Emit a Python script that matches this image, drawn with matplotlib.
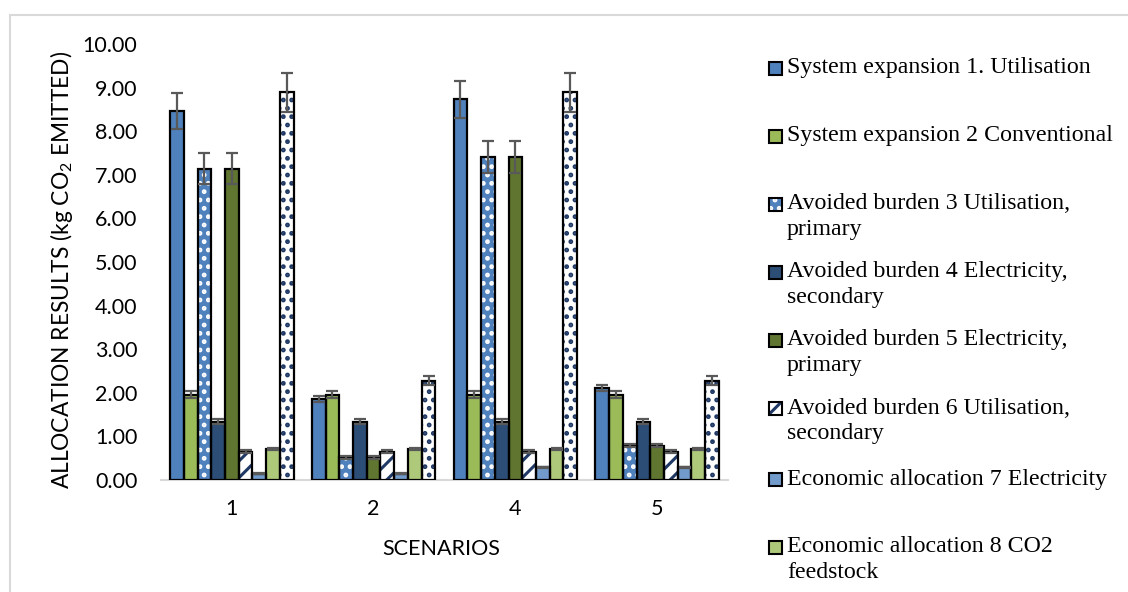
import numpy as np
import matplotlib
matplotlib.use("Agg")
import matplotlib.pyplot as plt
from matplotlib.patches import Rectangle

scenarios = ["1", "2", "4", "5"]
series_labels = [
    "System expansion 1. Utilisation",
    "System expansion 2 Conventional",
    "Avoided burden 3 Utilisation,\nprimary",
    "Avoided burden 4 Electricity,\nsecondary",
    "Avoided burden 5 Electricity,\nprimary",
    "Avoided burden 6 Utilisation,\nsecondary",
    "Economic allocation 7 Electricity",
    "Economic allocation 8 CO2\nfeedstock",
    "Economic allocation 9",
]
# values per series across scenarios 1, 2, 4, 5
s1 = [8.46, 1.86, 8.73, 2.11]
s2 = [1.96, 1.96, 1.96, 1.96]
s3 = [7.14, 0.52, 7.41, 0.79]
s4 = [1.34, 1.34, 1.34, 1.34]
s5 = [7.14, 0.52, 7.41, 0.79]
s6 = [0.65, 0.65, 0.65, 0.65]
s7 = [0.14, 0.14, 0.29, 0.29]
s8 = [0.71, 0.71, 0.71, 0.71]
s9 = [8.89, 2.28, 8.89, 2.28]
e1 = [0.42, 0.07, 0.43, 0.08]
e2 = [0.08, 0.08, 0.08, 0.08]
e3 = [0.35, 0.03, 0.37, 0.04]
e4 = [0.06, 0.06, 0.06, 0.06]
e5 = [0.35, 0.03, 0.37, 0.04]
e6 = [0.03, 0.03, 0.03, 0.03]
e7 = [0.01, 0.01, 0.01, 0.01]
e8 = [0.03, 0.03, 0.03, 0.03]
e9 = [0.44, 0.10, 0.44, 0.10]
values = [s1, s2, s3, s4, s5, s6, s7, s8, s9]
errors = [e1, e2, e3, e4, e5, e6, e7, e8, e9]
yticks = [0, 1, 2, 3, 4, 5, 6, 7, 8, 9, 10]

NAVY = "#1F3864"
styles = [
    dict(fc="#4F81BD", hatch=None, hc=None),
    dict(fc="#9BBB59", hatch=None, hc=None),
    dict(fc="#4F81BD", hatch="..", hc="white"),
    dict(fc="#2C4D75", hatch=None, hc=None),
    dict(fc="#5F7530", hatch=None, hc=None),
    dict(fc="white", hatch="//", hc=NAVY),
    dict(fc="#729ACA", hatch=None, hc=None),
    dict(fc="#AFC97A", hatch=None, hc=None),
    dict(fc="white", hatch="..", hc=NAVY),
]

plt.rcParams["font.family"] = ["Lato", "DejaVu Sans"]
plt.rcParams["mathtext.fontset"] = "custom"
plt.rcParams["mathtext.rm"] = "Lato"
plt.rcParams["mathtext.it"] = "Lato"
plt.rcParams["hatch.linewidth"] = 2.2

W, H = 1128, 592
fig = plt.figure(figsize=(W / 100, H / 100), dpi=100)
fig.patch.set_facecolor("white")

# outer border
fig.add_artist(Rectangle((10 / W, -0.05), 1.2, (H - 15) / H + 0.05, transform=fig.transFigure,
                         fill=False, edgecolor="#D9D9D9", linewidth=1.5))

ax_left, ax_right, ax_top, ax_bottom = 161, 728, 44, 480
ax = fig.add_axes([ax_left / W, 1 - ax_bottom / H, (ax_right - ax_left) / W, (ax_bottom - ax_top) / H])

n = len(values)
x = np.arange(len(scenarios))
group_w = 0.873
bw = group_w / n
for i, (vals, errs, st) in enumerate(zip(values, errors, styles)):
    pos = x - group_w / 2 + bw * (i + 0.5)
    ax.bar(pos, vals, bw, color=st["fc"], linewidth=0, zorder=2)
    if st["hatch"]:
        ax.bar(pos, vals, bw, facecolor="none", edgecolor=st["hc"], hatch=st["hatch"], linewidth=0, zorder=3)
    ax.bar(pos, vals, bw, facecolor="none", edgecolor="black", linewidth=1.6, zorder=4)
    ax.errorbar(pos, vals, yerr=errs, fmt="none", ecolor="#595959", elinewidth=1.6,
                capsize=4.5, capthick=1.6, zorder=5)

ax.set_xlim(-0.5, len(scenarios) - 0.5)
ax.set_ylim(0, 10)
ax.set_yticks(yticks)
ax.set_yticklabels([f"{v:.2f}" for v in yticks], fontsize=15.5, color="black")
ax.set_xticks(x)
ax.set_xticklabels(scenarios, fontsize=15.5)
ax.tick_params(axis="both", length=0)
ax.tick_params(axis="y", pad=17)
ax.tick_params(axis="x", pad=14)
for sp in ["top", "right", "left"]:
    ax.spines[sp].set_visible(False)
ax.spines["bottom"].set_color("#D9D9D9")
ax.spines["bottom"].set_linewidth(1.5)
ax.spines["bottom"].set_zorder(1)

fig.text(441 / W, 1 - 549 / H, "SCENARIOS", fontsize=15.5, ha="center", va="center")
fig.text(62 / W, 1 - 270 / H, r"ALLOCATION RESULTS (kg CO$_2$ EMITTED)", fontsize=16.4,
         rotation=90, ha="center", va="center")

# legend (first 8 series), drawn Excel-style
row_y = [68, 136, 204, 272, 340, 408, 479, 547]
for i, yy in enumerate(row_y):
    st = styles[i]
    px, ps = 769, 13
    fig.add_artist(Rectangle((px / W, 1 - (yy + ps / 2) / H), ps / W, ps / H, transform=fig.transFigure,
                             facecolor=st["fc"], edgecolor="none", zorder=2))
    if st["hatch"]:
        fig.add_artist(Rectangle((px / W, 1 - (yy + ps / 2) / H), ps / W, ps / H, transform=fig.transFigure,
                                 facecolor="none", edgecolor=st["hc"], hatch=st["hatch"], linewidth=0, zorder=3))
    fig.add_artist(Rectangle((px / W, 1 - (yy + ps / 2) / H), ps / W, ps / H, transform=fig.transFigure,
                             facecolor="none", edgecolor="black", linewidth=1.5, zorder=4))
    lines = series_labels[i].split("\n")
    for j, ln in enumerate(lines):
        fig.text(787 / W, 1 - (yy + 26 * j) / H, ln, fontsize=17.2, family=["Liberation Serif"],
                 ha="left", va="center")

fig.savefig("out.png", dpi=100)
